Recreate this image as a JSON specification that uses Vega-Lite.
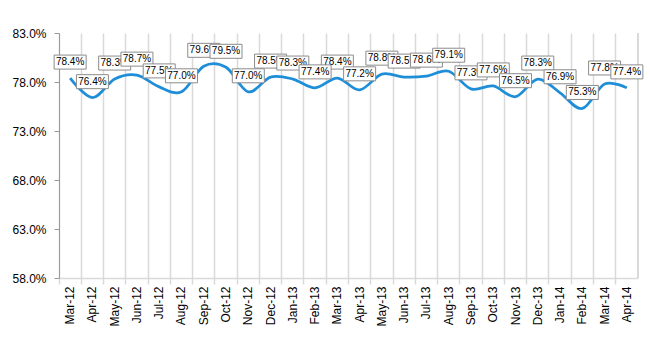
{
  "$schema": "https://vega.github.io/schema/vega-lite/v6.json",
  "width": 579,
  "height": 245,
  "autosize": {"type": "none"},
  "padding": {"left": 59, "top": 33, "right": 12, "bottom": 72},
  "background": "white",
  "view": {"stroke": null},
  "config": {
    "font": "Liberation Sans",
    "axis": {"labelFont": "Liberation Sans", "labelFontSize": 12, "labelColor": "#000000", "title": null}
  },
  "data": {
    "values": [
      {"month": "Mar-12", "rate": 0.784},
      {"month": "Apr-12", "rate": 0.764},
      {"month": "May-12", "rate": 0.783},
      {"month": "Jun-12", "rate": 0.787},
      {"month": "Jul-12", "rate": 0.775},
      {"month": "Aug-12", "rate": 0.770},
      {"month": "Sep-12", "rate": 0.796},
      {"month": "Oct-12", "rate": 0.795},
      {"month": "Nov-12", "rate": 0.770},
      {"month": "Dec-12", "rate": 0.785},
      {"month": "Jan-13", "rate": 0.783},
      {"month": "Feb-13", "rate": 0.774},
      {"month": "Mar-13", "rate": 0.784},
      {"month": "Apr-13", "rate": 0.772},
      {"month": "May-13", "rate": 0.788},
      {"month": "Jun-13", "rate": 0.785},
      {"month": "Jul-13", "rate": 0.786},
      {"month": "Aug-13", "rate": 0.791},
      {"month": "Sep-13", "rate": 0.773},
      {"month": "Oct-13", "rate": 0.776},
      {"month": "Nov-13", "rate": 0.765},
      {"month": "Dec-13", "rate": 0.783},
      {"month": "Jan-14", "rate": 0.769},
      {"month": "Feb-14", "rate": 0.753},
      {"month": "Mar-14", "rate": 0.778},
      {"month": "Apr-14", "rate": 0.774}
    ]
  },
  "encoding": {
    "x": {
      "field": "month", "type": "nominal", "sort": null,
      "scale": {
        "type": "band", "paddingInner": 0, "paddingOuter": 0,
        "domain": ["Mar-12", "Apr-12", "May-12", "Jun-12", "Jul-12", "Aug-12", "Sep-12", "Oct-12", "Nov-12", "Dec-12", "Jan-13", "Feb-13", "Mar-13", "Apr-13", "May-13", "Jun-13", "Jul-13", "Aug-13", "Sep-13", "Oct-13", "Nov-13", "Dec-13", "Jan-14", "Feb-14", "Mar-14", "Apr-14"]
      },
      "axis": {
        "labelAngle": -90, "bandPosition": 0, "grid": true,
        "gridColor": "#d9d9d9", "gridWidth": 1.5,
        "tickColor": "#d9d9d9", "tickWidth": 1.5, "tickSize": 6,
        "domainColor": "#d9d9d9", "domainWidth": 1.5, "labelPadding": 2
      }
    },
    "y": {
      "field": "rate", "type": "quantitative",
      "scale": {"domain": [0.58, 0.83], "nice": false, "zero": false},
      "axis": {
        "values": [0.58, 0.63, 0.68, 0.73, 0.78, 0.83], "format": ".1%",
        "grid": false, "domainColor": "#9a9a9a", "tickColor": "#9a9a9a",
        "tickSize": 5, "labelPadding": 8
      }
    }
  },
  "layer": [
    {
      "mark": {"type": "rule", "color": "#d9d9d9", "strokeWidth": 1.5},
      "encoding": {
        "x": {"datum": "Apr-14", "bandPosition": 1},
        "y": null
      }
    },
    {
      "mark": {"type": "line", "interpolate": "cardinal", "color": "#1f8ed8", "strokeWidth": 2.75}
    },
    {
      "transform": [{"filter": {"field": "month", "oneOf": ["Mar-12", "May-12", "Sep-12", "Dec-12", "Mar-13", "May-13", "Sep-13", "Dec-13", "Mar-14"]}}],
      "mark": {"type": "point", "shape": "M-1,-0.4375H1V0.4375H-1Z", "size": 1024, "filled": true, "fill": "white", "stroke": "#8c8c8c", "strokeWidth": 1, "opacity": 1, "yOffset": -16}
    },
    {
      "transform": [{"filter": {"field": "month", "oneOf": ["Mar-12", "May-12", "Sep-12", "Dec-12", "Mar-13", "May-13", "Sep-13", "Dec-13", "Mar-14"]}}],
      "mark": {"type": "text", "font": "Liberation Sans", "fontSize": 10, "color": "#000000", "baseline": "middle", "align": "center", "yOffset": -16},
      "encoding": {"text": {"field": "rate", "type": "quantitative", "format": ".1%"}}
    },
    {
      "transform": [{"filter": {"field": "month", "oneOf": ["Apr-12", "Jun-12", "Oct-12", "Jan-13", "Apr-13", "Jun-13", "Oct-13", "Jan-14", "Apr-14"]}}],
      "mark": {"type": "point", "shape": "M-1,-0.4375H1V0.4375H-1Z", "size": 1024, "filled": true, "fill": "white", "stroke": "#8c8c8c", "strokeWidth": 1, "opacity": 1, "yOffset": -16}
    },
    {
      "transform": [{"filter": {"field": "month", "oneOf": ["Apr-12", "Jun-12", "Oct-12", "Jan-13", "Apr-13", "Jun-13", "Oct-13", "Jan-14", "Apr-14"]}}],
      "mark": {"type": "text", "font": "Liberation Sans", "fontSize": 10, "color": "#000000", "baseline": "middle", "align": "center", "yOffset": -16},
      "encoding": {"text": {"field": "rate", "type": "quantitative", "format": ".1%"}}
    },
    {
      "transform": [{"filter": {"field": "month", "oneOf": ["Jul-12", "Nov-12", "Feb-13", "Jul-13", "Nov-13", "Feb-14"]}}],
      "mark": {"type": "point", "shape": "M-1,-0.4375H1V0.4375H-1Z", "size": 1024, "filled": true, "fill": "white", "stroke": "#8c8c8c", "strokeWidth": 1, "opacity": 1, "yOffset": -16}
    },
    {
      "transform": [{"filter": {"field": "month", "oneOf": ["Jul-12", "Nov-12", "Feb-13", "Jul-13", "Nov-13", "Feb-14"]}}],
      "mark": {"type": "text", "font": "Liberation Sans", "fontSize": 10, "color": "#000000", "baseline": "middle", "align": "center", "yOffset": -16},
      "encoding": {"text": {"field": "rate", "type": "quantitative", "format": ".1%"}}
    },
    {
      "transform": [{"filter": {"field": "month", "oneOf": ["Aug-12", "Aug-13"]}}],
      "mark": {"type": "point", "shape": "M-1,-0.4375H1V0.4375H-1Z", "size": 1024, "filled": true, "fill": "white", "stroke": "#8c8c8c", "strokeWidth": 1, "opacity": 1, "yOffset": -16}
    },
    {
      "transform": [{"filter": {"field": "month", "oneOf": ["Aug-12", "Aug-13"]}}],
      "mark": {"type": "text", "font": "Liberation Sans", "fontSize": 10, "color": "#000000", "baseline": "middle", "align": "center", "yOffset": -16},
      "encoding": {"text": {"field": "rate", "type": "quantitative", "format": ".1%"}}
    }
  ]
}
